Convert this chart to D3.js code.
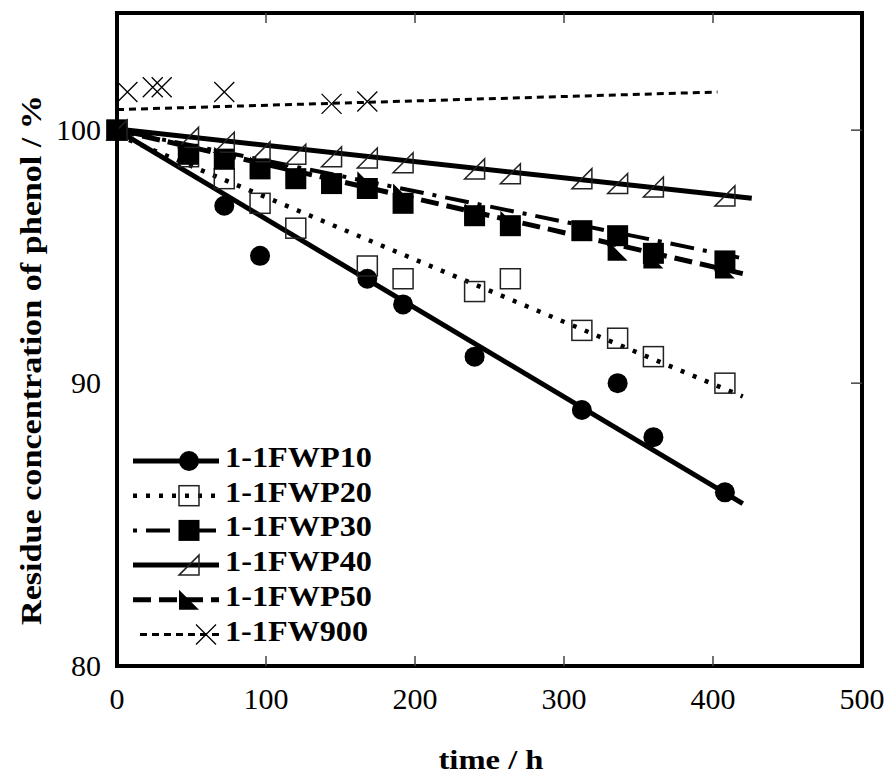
<!DOCTYPE html>
<html>
<head>
<meta charset="utf-8">
<title>Residue concentration of phenol</title>
<script src="https://d3js.org/d3.v7.min.js"></script>
<style>
  body { margin: 0; background: #fff; }
  svg text { font-family: "Liberation Serif", "Times New Roman", serif; fill: #000; }
</style>
</head>
<body>
<div id="chart"></div>
<script>
// ---- data ----
const seriesNames = ["1-1FWP10", "1-1FWP20", "1-1FWP30", "1-1FWP40", "1-1FWP50", "1-1FW900"];

const timeP10 = [0, 72, 96, 168, 192, 240, 312, 336, 360, 408];
const valP10  = [100, 96.9, 94.9, 94.0, 93.0, 91.0, 89.0, 90.0, 88.0, 86.0];

const timeP20 = [0, 48, 72, 96, 120, 168, 192, 240, 264, 312, 336, 360, 408];
const valP20  = [100, 98.9, 98.0, 97.0, 96.0, 94.5, 94.0, 93.5, 94.0, 92.0, 91.7, 91.0, 90.0];

const timeP30 = [0, 48, 72, 96, 120, 144, 168, 192, 240, 264, 312, 336, 360, 408];
const valP30  = [100, 99.0, 98.8, 98.4, 98.0, 97.8, 97.6, 97.0, 96.5, 96.1, 95.9, 95.7, 95.0, 94.7];

const timeP40 = [0, 48, 72, 96, 120, 144, 168, 192, 240, 264, 312, 336, 360, 408];
const valP40  = [100, 99.7, 99.5, 99.1, 99.0, 98.9, 98.85, 98.65, 98.4, 98.2, 98.0, 97.8, 97.66, 97.3];

const timeP50 = [0, 48, 72, 96, 120, 144, 168, 192, 240, 264, 312, 336, 360, 408];
const valP50  = [100, 99.1, 98.9, 98.5, 98.1, 97.8, 97.9, 97.4, 96.6, 96.3, 95.9, 95.1, 94.8, 94.4];

const time900 = [7, 24, 30, 72, 144, 168];
const val900  = [101.6, 101.8, 101.8, 101.6, 101.1, 101.2];

// fitted trend lines: [t start, value start, t end, value end]
const fitP10 = [0, 100, 420, 85.6];
const fitP20 = [0, 99.8, 420, 89.5];
const fitP30 = [0, 100, 420, 94.8];
const fitP40 = [0, 100.05, 426, 97.2];
const fitP50 = [0, 100, 420, 94.2];
const fit900 = [0, 100.86, 403, 101.6];

const xTicks = [0, 100, 200, 300, 400, 500];
const yTicks = [80, 90, 100];
const xTitle = "time / h";
const yTitle = "Residue concentration of phenol / %";

// ---- layout ----
const W = 888, H = 774;
const plotL = 117, plotR = 862, plotT = 13, plotB = 666;

const x = d3.scaleLinear().domain([0, 500]).range([plotL, plotR]);
const y = d3.scaleLog().domain([80, 105]).range([plotB, plotT]);

const svg = d3.select("#chart").append("svg")
  .attr("width", W).attr("height", H);

// marker shapes
const shapes = {
  circle: g => g.append("circle").attr("r", 10).attr("fill", "#000"),
  openSquare: g => g.append("rect").attr("x", -10).attr("y", -10).attr("width", 20).attr("height", 20)
      .attr("fill", "none").attr("stroke", "#222").attr("stroke-width", 1.5),
  fillSquare: g => g.append("rect").attr("x", -10.5).attr("y", -10.5).attr("width", 21).attr("height", 21)
      .attr("fill", "#000"),
  openTri: g => g.append("path").attr("d", "M-10,10L10,10L10,-10Z")
      .attr("fill", "none").attr("stroke", "#222").attr("stroke-width", 1.5),
  fillTri: g => g.append("path").attr("d", "M-10,-10L-10,10L10,10Z").attr("fill", "#000"),
  cross: g => g.append("path").attr("d", "M-10,-10L10,10M-10,10L10,-10")
      .attr("fill", "none").attr("stroke", "#000").attr("stroke-width", 1.3)
};

const series = [
  { name: seriesNames[0], t: timeP10, v: valP10, fit: fitP10, shape: "circle", width: 5, dash: null },
  { name: seriesNames[1], t: timeP20, v: valP20, fit: fitP20, shape: "openSquare", width: 4.5, dash: "4 9" },
  { name: seriesNames[2], t: timeP30, v: valP30, fit: fitP30, shape: "fillSquare", width: 4, dash: "4 9 24 9" },
  { name: seriesNames[3], t: timeP40, v: valP40, fit: fitP40, shape: "openTri", width: 5, dash: null },
  { name: seriesNames[4], t: timeP50, v: valP50, fit: fitP50, shape: "fillTri", width: 5, dash: "18 8" },
  { name: seriesNames[5], t: time900, v: val900, fit: fit900, shape: "cross", width: 3, dash: "7 5" }
];

const line = d3.line().x(d => x(d[0])).y(d => y(d[1]));

// trend lines
series.forEach(s => {
  svg.append("path")
    .attr("d", line([[s.fit[0], s.fit[1]], [s.fit[2], s.fit[3]]]))
    .attr("fill", "none")
    .attr("stroke", "#000")
    .attr("stroke-width", s.width)
    .attr("stroke-dasharray", s.dash);
});

// markers
series.forEach(s => {
  s.t.forEach((t, i) => {
    const g = svg.append("g").attr("transform", `translate(${x(t)},${y(s.v[i])})`);
    shapes[s.shape](g);
  });
});

// frame
svg.append("rect")
  .attr("x", plotL).attr("y", plotT)
  .attr("width", plotR - plotL).attr("height", plotB - plotT)
  .attr("fill", "none").attr("stroke", "#000").attr("stroke-width", 4);

// ticks (inward)
const inner = xTicks.filter(d => d > 0 && d < 500);
svg.selectAll(".xtb").data(inner).enter().append("line")
  .attr("x1", d => x(d)).attr("x2", d => x(d))
  .attr("y1", plotB).attr("y2", plotB - 10)
  .attr("stroke", "#444").attr("stroke-width", 1.5);
svg.selectAll(".xtt").data(inner).enter().append("line")
  .attr("x1", d => x(d)).attr("x2", d => x(d))
  .attr("y1", plotT).attr("y2", plotT + 10)
  .attr("stroke", "#444").attr("stroke-width", 1.5);
svg.selectAll(".ytr").data(yTicks.filter(d => d > 80)).enter().append("line")
  .attr("x1", plotR).attr("x2", plotR - 11)
  .attr("y1", d => y(d)).attr("y2", d => y(d))
  .attr("stroke", "#444").attr("stroke-width", 1.5);

// tick labels
svg.selectAll(".xl").data(xTicks).enter().append("text")
  .attr("x", d => x(d)).attr("y", 709)
  .attr("text-anchor", "middle")
  .style("font-size", "30px")
  .text(d => d);
svg.selectAll(".yl").data(yTicks).enter().append("text")
  .attr("x", 101).attr("y", d => y(d) + 10)
  .attr("text-anchor", "end")
  .style("font-size", "30px")
  .text(d => d);

// axis titles
svg.append("text")
  .attr("x", 491).attr("y", 769)
  .attr("text-anchor", "middle")
  .style("font-size", "28px").style("font-weight", "bold")
  .attr("textLength", 105).attr("lengthAdjust", "spacingAndGlyphs")
  .text(xTitle);
svg.append("text")
  .attr("transform", "translate(41,360) rotate(-90)")
  .attr("text-anchor", "middle")
  .style("font-size", "30px").style("font-weight", "bold")
  .attr("textLength", 530).attr("lengthAdjust", "spacingAndGlyphs")
  .text(yTitle);

// legend
const legY0 = 467, legStep = 34.7;
series.forEach((s, i) => {
  const by = legY0 + i * legStep;
  const ly = by - 6;
  const x0 = s.shape === "cross" ? 140 : 133;
  svg.append("line")
    .attr("x1", x0).attr("x2", 219).attr("y1", ly).attr("y2", ly)
    .attr("stroke", "#000").attr("stroke-width", s.width)
    .attr("stroke-dasharray", s.dash);
  const mx = s.shape === "cross" ? 206 : 189;
  const g = svg.append("g").attr("transform", `translate(${mx},${ly})`);
  shapes[s.shape](g);
  svg.append("text")
    .attr("x", 225).attr("y", by)
    .style("font-size", "29px").style("font-weight", "bold")
    .attr("textLength", s.shape === "cross" ? 143 : 147)
    .attr("lengthAdjust", "spacingAndGlyphs")
    .text(s.name);
});
</script>
</body>
</html>
